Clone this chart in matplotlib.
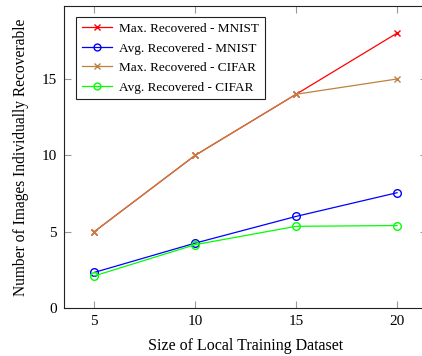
import matplotlib
matplotlib.use("Agg")
import matplotlib.pyplot as plt

# training set size vs. images recovered
sizes = [5, 10, 15, 20]
max_mnist = [5, 10, 14, 18]
avg_mnist = [2.33, 4.25, 6.0, 7.55]
max_cifar = [5, 10, 14, 15]
avg_cifar = [2.1, 4.15, 5.35, 5.4]

plt.rcParams['font.family'] = ['Liberation Serif', 'DejaVu Serif']
plt.rcParams['font.size'] = 11

fig = plt.figure(figsize=(4.22, 3.56), dpi=100)
ax = fig.add_axes([64/422, 48/356, 363.3/422, 302/356])

ax.plot(sizes, max_mnist, color='red', marker='x', markersize=5, lw=0.9,
        label='Max. Recovered - MNIST')
ax.plot(sizes, avg_mnist, color='blue', marker='o', markersize=5.5, mfc='none', lw=0.9,
        label='Avg. Recovered - MNIST')
ax.plot(sizes, max_cifar, color=(0.75, 0.5, 0.25), marker='x', markersize=5, lw=0.9,
        label='Max. Recovered - CIFAR')
ax.plot(sizes, avg_cifar, color=(0, 1, 0), marker='o', markersize=5.5, mfc='none', lw=0.9,
        label='Avg. Recovered - CIFAR')

ax.set_xlim(3.5, 21.5)
ax.set_ylim(0, 19.78)
ax.set_xticks(sizes)
ax.set_yticks([0, 5, 10, 15])
ax.tick_params(direction='in', length=5, width=0.8, color='#999999',
               top=True, right=True, labelsize=11, pad=5)
for s in ax.spines.values():
    s.set_linewidth(0.8)
    s.set_color('#222222')

ax.set_xlabel('Size of Local Training Dataset', fontsize=11.5, labelpad=7)
ax.set_ylabel('Number of Images Individually Recoverable', fontsize=11.2, labelpad=9)

leg = ax.legend(loc='upper left', fontsize=9.5, fancybox=False, framealpha=1,
                edgecolor='#222222', handlelength=2.3, handletextpad=0.5,
                borderpad=0.45, labelspacing=0.55, markerscale=0.9,
                borderaxespad=0, bbox_to_anchor=(0.033, 0.964))
leg.get_frame().set_linewidth(0.8)

fig.savefig('out.png', dpi=100)
